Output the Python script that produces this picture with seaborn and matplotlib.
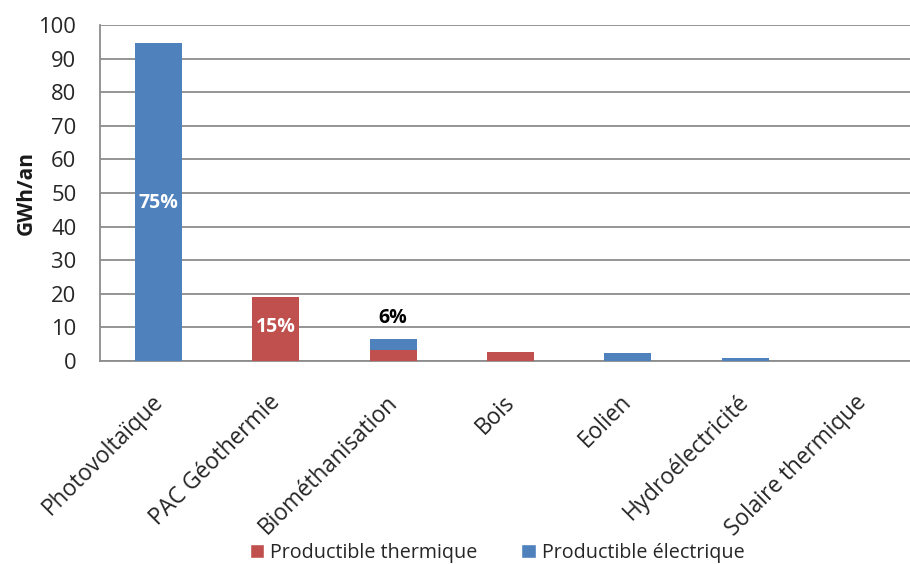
import matplotlib
matplotlib.use("Agg")
import matplotlib.pyplot as plt
import matplotlib.transforms as mtransforms
from matplotlib.patches import Patch
from matplotlib.ticker import FixedLocator
import numpy as np
import pandas as pd
import seaborn as sns

# Production par filière (GWh/an)
categories = ["Photovoltaïque", "PAC Géothermie", "Biométhanisation", "Bois",
              "Eolien", "Hydroélectricité", "Solaire thermique"]
thermique = [0.0, 19.0, 3.3, 2.6, 0.0, 0.0, 0.0]
electrique = [94.5, 0.0, 3.2, 0.0, 2.4, 1.0, 0.0]
part_labels = ["75%", "15%", "6%"]
part_filieres = ["Photovoltaïque", "PAC Géothermie", "Biométhanisation"]
part_y = [47.0, 10.1, 12.8]
yticks = list(range(0, 101, 10))

red = "#C0504D"
blue = "#4F81BD"
grid_col = "#8C8C8C"

sns.set_theme(style="white")
plt.rcParams["font.family"] = ["Open Sans", "DejaVu Sans"]

df = pd.DataFrame({"filiere": categories,
                   "thermique": thermique,
                   "electrique": electrique})
df["total"] = df["thermique"] + df["electrique"]

fig = plt.figure(figsize=(9.10, 5.64), dpi=100)
ax = fig.add_axes([100 / 910, 1 - 361 / 564, 821 / 910, 336 / 564])

# Empilement : électrique au-dessus du thermique
sns.barplot(data=df, x="filiere", y="total", color=blue, saturation=1,
            width=0.4, linewidth=0, ax=ax, zorder=3)
sns.barplot(data=df, x="filiere", y="thermique", color=red, saturation=1,
            width=0.4, linewidth=0, ax=ax, zorder=3)

ax.set_xlim(-0.5, len(categories) - 0.5)
ax.set_ylim(0, 100)
ax.set_yticks(yticks)
ax.yaxis.grid(True, color=grid_col, linewidth=1.3, zorder=0)
ax.set_axisbelow(True)

for side in ["top", "right"]:
    ax.spines[side].set_visible(False)
for side in ["left", "bottom"]:
    ax.spines[side].set_color(grid_col)
    ax.spines[side].set_linewidth(1.3)

ax.tick_params(axis="y", which="major", direction="out", length=7,
               width=1.3, color=grid_col, labelsize=15.8, labelcolor="#262626", pad=10)
# Graduations de l'axe x entre les catégories
ax.xaxis.set_minor_locator(FixedLocator(np.arange(-0.5, len(categories), 1.0)))
ax.tick_params(axis="x", which="major", length=0, labelsize=16.3,
               labelcolor="#262626", pad=21)
ax.tick_params(axis="x", which="minor", direction="out", length=7,
               width=1.3, color=grid_col)
shift = mtransforms.ScaledTranslation(-8 / 100, 0, fig.dpi_scale_trans)
for lbl in ax.get_xticklabels():
    lbl.set_rotation(45)
    lbl.set_ha("right")
    lbl.set_rotation_mode("anchor")
    lbl.set_transform(lbl.get_transform() + shift)

ax.set_xlabel("")
ax.set_ylabel("GWh/an", fontsize=15, fontweight="bold", color="#1a1a1a", labelpad=1)

# Parts en pourcentage
for name, lab, y in zip(part_filieres, part_labels, part_y):
    i = categories.index(name)
    inside = y < df.loc[i, "total"]
    ax.text(i, y, lab, ha="center", va="center",
            color="white" if inside else "black",
            fontsize=14, fontweight="bold", zorder=4)

handles = [Patch(facecolor=red, label="Productible thermique"),
           Patch(facecolor=blue, label="Productible électrique")]
fig.legend(handles=handles, loc="center", bbox_to_anchor=(497 / 910, 1 - 553 / 564),
           ncol=2, frameon=False, fontsize=14.2, handlelength=0.75, handleheight=0.75,
           handletextpad=0.3, columnspacing=2.2, labelcolor="#262626")

fig.savefig("out.png", dpi=100)
